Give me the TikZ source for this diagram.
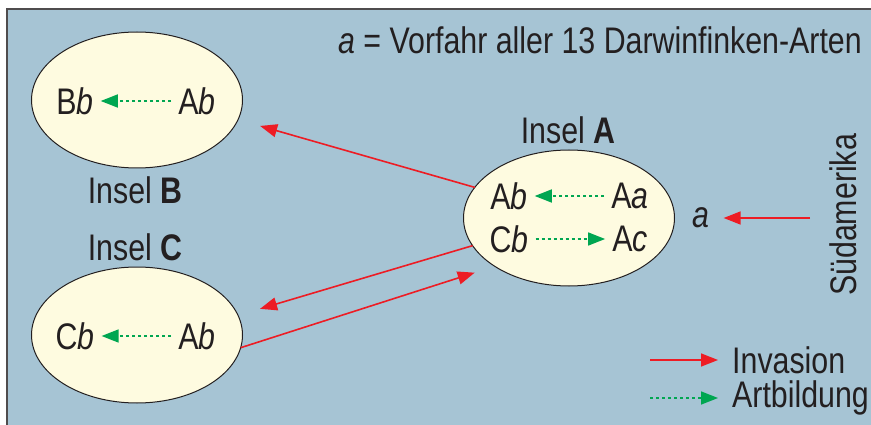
\documentclass[tikz,border=0pt]{standalone}
\usepackage{fontspec}
\setmainfont{Liberation Sans}[FakeStretch=0.82]
\usetikzlibrary{shapes.geometric,arrows.meta}
\definecolor{seablue}{RGB}{166,196,212}
\definecolor{isle}{RGB}{254,251,224}
\definecolor{invred}{RGB}{237,28,36}
\definecolor{artgreen}{RGB}{0,166,81}
\definecolor{ink}{RGB}{35,31,32}
\tikzset{
  island/.style={ellipse, draw=ink, line width=1pt, fill=isle, minimum width=211pt, minimum height=136pt, inner sep=0pt, outer sep=0pt},
  species/.style={inner sep=7pt},
  invasion/.style={draw=invred, line width=1.6pt, -{Triangle[length=17pt,width=13pt]}},
  artbildung/.style={draw=artgreen, line width=1.6pt, dash pattern=on 3pt off 3pt, -{Triangle[length=17pt,width=13pt]}}
}
\begin{document}
\begin{tikzpicture}[x=1pt, y=-1pt, inner sep=4pt, text=ink, font=\fontsize{37}{44}\selectfont]
        \useasboundingbox (0,0) rectangle (871,425);
        % Sea
        \draw[fill=seablue, draw=ink!80, line width=1.2pt] (7,9) rectangle (880,440);

        % Islands
        \node[island] (islB) at (137,100) {};
        \node[island] (islC) at (137,335) {};
        \node[island] (islA) at (569,218) {};
        \node (nameB) at (135,190) {Insel \textbf{B}};
        \node (nameC) at (135,247) {Insel \textbf{C}};
        \node (nameA) at (568,130) {Insel \textbf{A}};

        % Species on the islands
        \node[species] (bBb) at (75,101) {B\textit{b}};
        \node[species] (bAb) at (197,101) {A\textit{b}};
        \node[species] (cCb) at (75,336) {C\textit{b}};
        \node[species] (cAb) at (197,336) {A\textit{b}};
        \node[species] (aAb) at (509,196) {A\textit{b}};
        \node[species] (aAa) at (630,196) {A\textit{a}};
        \node[species] (aCb) at (509,239) {C\textit{b}};
        \node[species] (aAc) at (630,239) {A\textit{c}};

        % Ancestor and mainland
        \node (anc) at (701,218) {\textit{a}};
        \node[rotate=90] (sam) at (843,215) {Südamerika};
        \coordinate (samstart) at (810,218);
        \node[anchor=east] (title) at (866,40) {\textit{a} = Vorfahr aller 13 Darwinfinken-Arten};

        % Speciation
        \draw[artbildung] (bAb) -- (bBb);
        \draw[artbildung] (cAb) -- (cCb);
        \draw[artbildung] (aAa) -- (aAb);
        \draw[artbildung] (aCb) -- (aAc);

        % Invasions
        \draw[invasion, shorten >=10pt] (samstart) -- (anc);
        \draw[invasion, shorten >=23pt] (islA.162.6) -- (islB.-11.5);
        \draw[invasion, shorten >=23pt] (islA.196.6) -- (islC.11.5);
        \draw[invasion, shorten >=21pt] (islC.-7) -- (islA.213.4);

        % Legend
        \coordinate (inv0) at (650,360);
        \coordinate (art0) at (650,398);
        \node[anchor=west] (invtext) at (728,360) {Invasion};
        \node[anchor=west] (arttext) at (728,398) {Artbildung};
        \draw[invasion, shorten >=10pt] (inv0) -- (invtext.west);
        \draw[artbildung, shorten >=10pt] (art0) -- (arttext.west);
\end{tikzpicture}
\end{document}
